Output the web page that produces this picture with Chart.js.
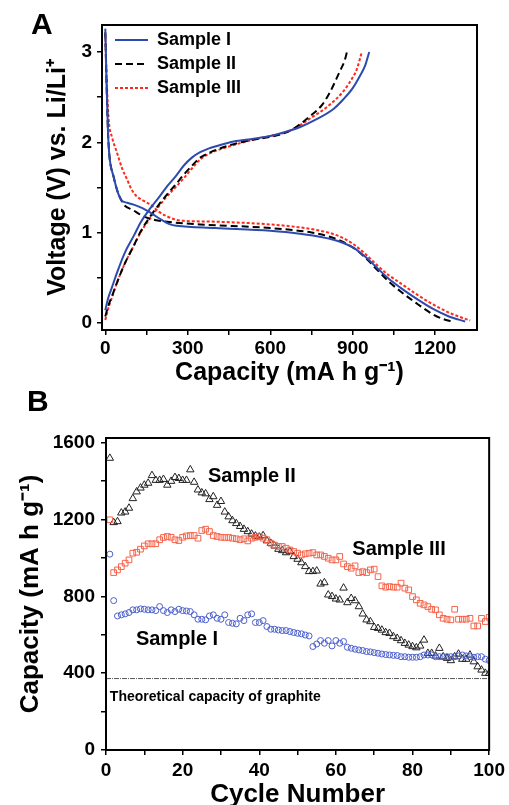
<!DOCTYPE html>
<html>
<head>
<meta charset="utf-8">
<script src="https://cdn.jsdelivr.net/npm/chart.js@4.4.0/dist/chart.umd.min.js"></script>
<style>
  html, body { margin: 0; padding: 0; background: #fff; overflow: hidden; }
  #wrap { position: relative; width: 509px; height: 805px; }
  canvas { position: absolute; left: 0; }
  .panel { position: absolute; font: bold 30px 'Liberation Sans', Arial, sans-serif; color: #000; line-height: 1; }
</style>
</head>
<body>
<div id="wrap">
  <canvas id="chartA" width="509" height="390" style="top:0"></canvas>
  <canvas id="chartB" width="509" height="420" style="top:390px"></canvas>
  <div class="panel" style="left:31px; top:9px;">A</div>
  <div class="panel" style="left:27px; top:386px;">B</div>
</div>
<script>
// ---- Panel A: voltage profiles (capacity mA h/g, voltage V) ----
const capDisI  = [0, 5, 10, 15, 30, 45, 58, 80, 103, 135, 164, 200, 236, 260, 400, 600, 700, 830, 903, 950, 988, 1030, 1073, 1130, 1194, 1250, 1309];
const voltDisI = [3.26, 2.6, 2.1, 1.85, 1.62, 1.45, 1.36, 1.33, 1.31, 1.27, 1.22, 1.15, 1.09, 1.075, 1.05, 1.02, 0.99, 0.92, 0.83, 0.72, 0.61, 0.49, 0.39, 0.27, 0.15, 0.07, 0.015];
const capChI   = [0, 10, 25, 42, 70, 103, 130, 164, 195, 224, 255, 285, 315, 345, 375, 406, 467, 540, 600, 660, 709, 758, 830, 867, 900, 927, 945, 960];
const voltChI  = [0.14, 0.27, 0.4, 0.55, 0.77, 0.96, 1.12, 1.27, 1.39, 1.51, 1.62, 1.74, 1.83, 1.89, 1.93, 1.96, 2.01, 2.04, 2.07, 2.12, 2.17, 2.24, 2.37, 2.48, 2.6, 2.74, 2.85, 3.0];

const capDisII  = [0, 5, 10, 15, 30, 45, 58, 67, 100, 139, 180, 224, 345, 600, 750, 830, 903, 950, 988, 1030, 1073, 1130, 1194, 1230, 1261];
const voltDisII = [3.22, 2.6, 2.1, 1.85, 1.62, 1.45, 1.36, 1.31, 1.25, 1.18, 1.14, 1.12, 1.09, 1.05, 1.0, 0.94, 0.83, 0.71, 0.59, 0.46, 0.35, 0.22, 0.09, 0.04, 0.015];
const capChII   = [0, 10, 25, 42, 70, 103, 130, 164, 195, 224, 255, 285, 315, 345, 375, 406, 467, 540, 600, 673, 745, 790, 818, 840, 855, 870, 879];
const voltChII  = [0.07, 0.18, 0.3, 0.44, 0.65, 0.85, 1.02, 1.18, 1.31, 1.42, 1.53, 1.64, 1.74, 1.83, 1.88, 1.92, 1.98, 2.03, 2.06, 2.13, 2.29, 2.42, 2.56, 2.7, 2.8, 2.9, 3.0];

const capDisIII  = [0, 5, 12, 25, 42, 60, 79, 95, 115, 140, 164, 200, 224, 260, 285, 406, 600, 700, 782, 850, 903, 950, 988, 1030, 1073, 1130, 1194, 1260, 1327];
const voltDisIII = [3.2, 2.7, 2.26, 2.05, 1.89, 1.72, 1.59, 1.48, 1.4, 1.35, 1.31, 1.22, 1.18, 1.14, 1.13, 1.12, 1.09, 1.06, 1.02, 0.96, 0.87, 0.75, 0.64, 0.53, 0.44, 0.32, 0.2, 0.1, 0.025];
const capChIII   = [0, 10, 25, 42, 70, 103, 130, 164, 195, 224, 255, 285, 315, 345, 375, 406, 467, 540, 600, 673, 758, 810, 867, 900, 915, 933];
const voltChIII  = [0.03, 0.15, 0.29, 0.44, 0.65, 0.85, 1.01, 1.16, 1.29, 1.4, 1.5, 1.6, 1.71, 1.81, 1.87, 1.91, 1.97, 2.03, 2.07, 2.13, 2.29, 2.4, 2.57, 2.72, 2.81, 3.0];

const xTicksA = [0, 150, 300, 450, 600, 750, 900, 1050, 1200];
const yTicksA = [0, 0.5, 1, 1.5, 2, 2.5, 3];

// ---- Panel B: cycling (capacity mA h/g vs cycle number) ----
const cycles = [1, 2, 3, 4, 5, 6, 7, 8, 9, 10, 11, 12, 13, 14, 15, 16, 17, 18, 19, 20,
  21, 22, 23, 24, 25, 26, 27, 28, 29, 30, 31, 32, 33, 34, 35, 36, 37, 38, 39, 40,
  41, 42, 43, 44, 45, 46, 47, 48, 49, 50, 51, 52, 53, 54, 55, 56, 57, 58, 59, 60,
  61, 62, 63, 64, 65, 66, 67, 68, 69, 70, 71, 72, 73, 74, 75, 76, 77, 78, 79, 80,
  81, 82, 83, 84, 85, 86, 87, 88, 89, 90, 91, 92, 93, 94, 95, 96, 97, 98, 99, 100];
const capSampleI = [1020, 778, 698, 704, 709, 716, 730, 730, 735, 733,
  730, 730, 726, 747, 726, 716, 730, 721, 733, 726,
  724, 721, 704, 681, 681, 678, 698, 704, 686, 681,
  704, 664, 660, 657, 686, 674, 704, 709, 664, 664,
  674, 643, 629, 629, 625, 622, 622, 617, 612, 608,
  605, 599, 594, 539, 552, 570, 556, 570, 542, 570,
  556, 565, 535, 530, 525, 521, 518, 513, 511, 507,
  504, 500, 497, 495, 493, 492, 486, 486, 483, 483,
  483, 486, 495, 495, 495, 486, 486, 486, 486, 486,
  486, 490, 495, 490, 486, 483, 486, 486, 473, 466];
const capSampleII = [1520, 1185, 1190, 1235, 1240, 1260, 1310, 1345, 1365, 1380,
  1390, 1430, 1405, 1405, 1410, 1380, 1400, 1420, 1415, 1405,
  1405, 1460, 1395, 1355, 1340, 1335, 1305, 1320, 1275, 1295,
  1240, 1215, 1195, 1180, 1165, 1150, 1138, 1125, 1115, 1110,
  1117, 1090, 1077, 1063, 1046, 1039, 1028, 1034, 1008, 994,
  976, 956, 930, 930, 933, 865, 872, 808, 800, 787,
  782, 844, 768, 790, 778, 747, 709, 678, 669, 639,
  634, 625, 612, 608, 591, 582, 570, 556, 547, 539,
  533, 542, 573, 504, 504, 490, 530, 486, 478, 466,
  486, 500, 473, 473, 495, 460, 434, 417, 400, 400];
const capSampleIII = [1199, 924, 938, 955, 973, 990, 1025, 1030, 1046, 1063,
  1074, 1074, 1074, 1095, 1107, 1112, 1108, 1095, 1091, 1108,
  1115, 1117, 1117, 1103, 1143, 1150, 1138, 1117, 1112, 1108,
  1107, 1107, 1103, 1100, 1095, 1100, 1089, 1103, 1108, 1112,
  1103, 1095, 1077, 1067, 1060, 1060, 1051, 1042, 1034, 1025,
  1016, 1022, 1025, 1028, 1016, 1016, 1008, 999, 990, 990,
  1008, 969, 955, 947, 959, 924, 929, 924, 938, 942,
  903, 855, 848, 851, 848, 848, 869, 843, 834, 799,
  782, 764, 756, 747, 733, 730, 704, 686, 681, 678,
  733, 681, 681, 681, 686, 646, 646, 686, 669, 691];
const graphiteCap = 372;
const graphiteRange = [0, 100];

const xTicksB = [0, 10, 20, 30, 40, 50, 60, 70, 80, 90, 100];
const yTicksB = [0, 200, 400, 600, 800, 1000, 1200, 1400, 1600];

const family = "'Liberation Sans', Arial, sans-serif";
Chart.defaults.font.family = family;
Chart.defaults.color = '#000';

function pts(xs, ys) {
  return xs.map((x, i) => ({ x: x, y: ys[i] }));
}

// draws the closed box around the plot area
const frame = {
  id: 'frame',
  afterDatasetsDraw(chart) {
    const a = chart.chartArea, ctx = chart.ctx;
    ctx.save();
    ctx.strokeStyle = '#000';
    ctx.lineWidth = 2;
    ctx.strokeRect(a.left, a.top, a.right - a.left, a.bottom - a.top);
    ctx.restore();
  }
};

// keep the in-plot legend at the top-left corner of the plot area
const legendSpot = {
  id: 'legendSpot',
  afterLayout(chart) {
    const l = chart.legend, a = chart.chartArea;
    if (!l) return;
    l.left = a.left + 7;
    l.top = a.top;
  }
};

function axis(o) {
  return {
    type: 'linear',
    min: o.min,
    max: o.max,
    afterBuildTicks: s => { s.ticks = o.ticks.map(v => ({ value: v })); },
    afterFit: s => { if (o.width) s.width = o.width; if (o.height) s.height = o.height; },
    border: { display: false },
    grid: { drawOnChartArea: false, drawTicks: true, tickLength: 5, color: '#000', lineWidth: 1.5 },
    ticks: {
      color: '#000', autoSkip: false, maxRotation: 0, padding: o.pad,
      font: { size: o.tickSize, weight: 'bold' },
      callback: v => (v % o.labelStep === 0 ? v : '')
    },
    title: {
      display: true, text: o.title, color: '#000',
      font: { size: o.titleSize, weight: 'bold' },
      padding: o.titlePad
    }
  };
}

// ---- Chart A ----
const blue = 'rgb(45,75,175)';
const red = 'rgb(255,40,25)';
const line = (label, data, color, dash) => ({
  label: label, data: data, showLine: true, borderColor: color, backgroundColor: color,
  borderWidth: 2, borderDash: dash, pointRadius: 0, cubicInterpolationMode: 'monotone'
});

new Chart(document.getElementById('chartA'), {
  type: 'scatter',
  data: {
    datasets: [
      line('Sample I', pts(capDisI, voltDisI), blue, []),
      line('Sample I charge', pts(capChI, voltChI), blue, []),
      line('Sample II', pts(capDisII, voltDisII), '#000', [7, 4]),
      line('Sample II charge', pts(capChII, voltChII), '#000', [7, 4]),
      line('Sample III', pts(capDisIII, voltDisIII), red, [3, 2]),
      line('Sample III charge', pts(capChIII, voltChIII), red, [3, 2])
    ]
  },
  options: {
    responsive: false,
    animation: false,
    devicePixelRatio: 1,
    layout: { padding: { left: 0, top: 25, right: 32, bottom: 0 } },
    plugins: {
      tooltip: { enabled: false },
      legend: {
        position: 'chartArea',
        align: 'start',
        labels: {
          filter: item => item.datasetIndex % 2 === 0,
          usePointStyle: true,
          pointStyle: 'line',
          pointStyleWidth: 33,
          padding: 6,
          color: '#000',
          font: { size: 18, weight: 'bold' },
          // line samples should carry the dataset's dash pattern
          generateLabels: chart => Chart.defaults.plugins.legend.labels.generateLabels(chart).map(item => {
            const ds = chart.data.datasets[item.datasetIndex];
            item.lineDash = ds.borderDash;
            item.lineWidth = ds.borderWidth;
            item.strokeStyle = ds.borderColor;
            return item;
          })
        }
      }
    },
    scales: {
      x: axis({ min: -12, max: 1352, ticks: xTicksA, labelStep: 300, height: 60, pad: 2,
        tickSize: 19, title: 'Capacity (mA h g⁻¹)', titleSize: 25, titlePad: { top: 0, bottom: 2 } }),
      y: axis({ min: -0.08, max: 3.3, ticks: yTicksA, labelStep: 1, width: 102, pad: 5,
        tickSize: 19, title: 'Voltage (V) vs. Li/Li⁺', titleSize: 25, titlePad: { top: 43, bottom: 0 } })
    }
  },
  plugins: [legendSpot, frame]
});

// ---- Chart B ----
const notesB = [
  { text: 'Sample II', x: 26.6, y: 1423, size: 20 },
  { text: 'Sample III', x: 64.3, y: 1042, size: 20 },
  { text: 'Sample I', x: 7.8, y: 573, size: 20 },
  { text: 'Theoretical capacity of graphite', x: 1.0, y: 276, size: 14 }
];
const notes = {
  id: 'notes',
  afterDatasetsDraw(chart) {
    const ctx = chart.ctx, sx = chart.scales.x, sy = chart.scales.y;
    ctx.save();
    ctx.fillStyle = '#000';
    ctx.textAlign = 'left';
    ctx.textBaseline = 'middle';
    notesB.forEach(n => {
      ctx.font = 'bold ' + n.size + 'px ' + family;
      ctx.fillText(n.text, sx.getPixelForValue(n.x), sy.getPixelForValue(n.y));
    });
    ctx.restore();
  }
};

const marks = (label, values, style, color, r) => ({
  label: label, data: pts(cycles, values), showLine: false,
  pointStyle: style, pointRadius: r, pointBorderWidth: 1,
  borderColor: color, backgroundColor: 'rgba(0,0,0,0)'
});

new Chart(document.getElementById('chartB'), {
  type: 'scatter',
  data: {
    datasets: [
      {
        label: 'graphite', data: pts(graphiteRange, [graphiteCap, graphiteCap]), showLine: true,
        borderColor: '#555', borderWidth: 1, borderDash: [5, 1, 1, 1], pointRadius: 0
      },
      marks('Sample I', capSampleI, 'circle', 'rgb(75,95,205)', 3),
      marks('Sample III', capSampleIII, 'rect', 'rgb(245,100,75)', 4),
      marks('Sample II', capSampleII, 'triangle', '#222', 4.3)
    ]
  },
  options: {
    responsive: false,
    animation: false,
    devicePixelRatio: 1,
    layout: { padding: { left: 0, top: 48, right: 18, bottom: 0 } },
    plugins: { legend: { display: false }, tooltip: { enabled: false } },
    scales: {
      x: axis({ min: 0, max: 100, ticks: xTicksB, labelStep: 20, height: 60, pad: 4,
        tickSize: 19, title: 'Cycle Number', titleSize: 26, titlePad: { top: 0, bottom: 0 } }),
      y: axis({ min: 0, max: 1625, ticks: yTicksB, labelStep: 400, width: 106, pad: 6,
        tickSize: 19, title: 'Capacity (mA h g⁻¹)', titleSize: 26, titlePad: { top: 15, bottom: 0 } })
    }
  },
  plugins: [frame, notes]
});
</script>
</body>
</html>
